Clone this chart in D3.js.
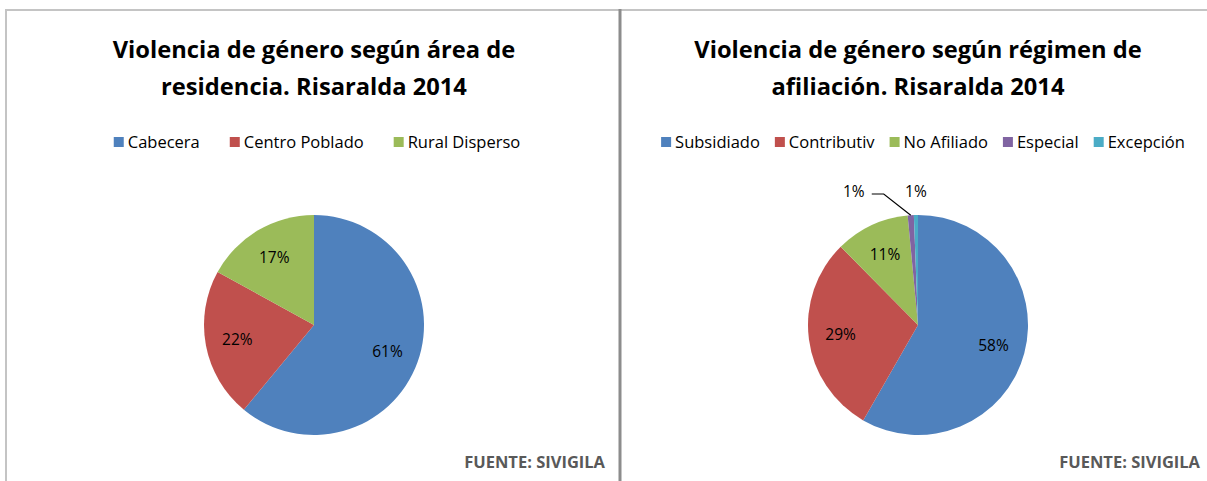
<!DOCTYPE html>
<html>
<head>
<meta charset="utf-8">
<script src="https://cdn.jsdelivr.net/npm/d3@7"></script>
<style>
  body { margin: 0; background: #fff; }
  svg text { font-family: 'Open Sans', sans-serif; }
</style>
</head>
<body>
<div id="chart"></div>
<script>
// datos
const areaCategories = ['Cabecera', 'Centro Poblado', 'Rural Disperso']
const areaValues = [61, 22, 17]
const regimenCategories = ['Subsidiado', 'Contributiv', 'No Afiliado', 'Especial', 'Excepción']
const regimenValues = [58.3, 29.3, 10.9, 0.9, 0.6]
const colors = ['#4F81BD', '#C0504D', '#9BBB59', '#8064A2', '#4BACC6']

const W = 1207
const H = 481

const svg = d3.select('#chart')
  .append('svg')
  .attr('width', W)
  .attr('height', H)

// bordes
svg.append('line')
  .attr('x1', 5).attr('x2', W).attr('y1', 10).attr('y2', 10)
  .attr('stroke', '#c4c4c4').attr('stroke-width', 2)
svg.append('line')
  .attr('x1', 6).attr('x2', 6).attr('y1', 9).attr('y2', H)
  .attr('stroke', '#c4c4c4').attr('stroke-width', 2)
svg.append('line')
  .attr('x1', 620).attr('x2', 620).attr('y1', 9).attr('y2', H)
  .attr('stroke', '#8c8c8c').attr('stroke-width', 3)

const drawPanel = (opts) => {
  const {cx, titleLines, categories, values, legendGap, legendCenter, fuenteX} = opts
  const g = svg.append('g')

  // titulo
  g.selectAll('.title')
    .data(titleLines)
    .enter()
    .append('text')
    .attr('class', 'title')
    .attr('x', cx)
    .attr('y', (d, i) => 58 + i * 37)
    .attr('text-anchor', 'middle')
    .attr('font-size', 23.7)
    .attr('font-weight', 700)
    .attr('fill', '#000')
    .text(d => d)

  // leyenda
  const legend = g.append('g').attr('transform', 'translate(0,142)')
  const items = legend.selectAll('g')
    .data(categories)
    .enter()
    .append('g')
  items.append('rect')
    .attr('width', 10).attr('height', 10)
    .attr('y', -5)
    .attr('fill', (d, i) => colors[i])
  items.append('text')
    .attr('x', 14)
    .attr('y', 5.5)
    .attr('font-size', 16.5)
    .attr('fill', '#000')
    .text(d => d)
  let xPos = 0
  items.each(function () {
    const w = d3.select(this).select('text').node().getComputedTextLength()
    d3.select(this).attr('transform', `translate(${xPos},0)`)
    xPos += 14 + w + legendGap
  })
  const total = xPos - legendGap
  legend.attr('transform', `translate(${legendCenter - total / 2},142)`)

  // pastel
  const r = 110
  const cy = 325
  const pie = d3.pie().sort(null).value(d => d)
  const arcs = pie(values)
  const arc = d3.arc().innerRadius(0).outerRadius(r)
  const labelArc = d3.arc().innerRadius(r * 0.71).outerRadius(r * 0.71)
  const edgeArc = d3.arc().innerRadius(r).outerRadius(r)

  const pg = g.append('g').attr('transform', `translate(${cx},${cy})`)
  pg.selectAll('path')
    .data(arcs)
    .enter()
    .append('path')
    .attr('d', arc)
    .attr('fill', (d, i) => colors[i])

  const big = arcs.filter(d => d.data >= 2)
  const small = arcs.filter(d => d.data < 2)

  pg.selectAll('.lbl')
    .data(big)
    .enter()
    .append('text')
    .attr('class', 'lbl')
    .attr('transform', d => `translate(${labelArc.centroid(d)})`)
    .attr('text-anchor', 'middle')
    .attr('dy', '0.35em')
    .attr('font-size', 15.5)
    .attr('fill', '#000')
    .text(d => Math.round(d.data) + '%')

  // etiquetas fuera para los trozos pequenos
  small.forEach((d, i) => {
    const p = edgeArc.centroid(d)
    const shift = (small.length - 1 - i) * 57
    const ty = -r - 18
    if (shift > 0) {
      pg.append('polyline')
        .attr('points', [[p[0], p[1]], [p[0] - 27, ty - 3], [p[0] - shift + 18, ty - 3]].map(q => q.join(',')).join(' '))
        .attr('fill', 'none')
        .attr('stroke', '#000')
        .attr('stroke-width', 1.2)
    }
    pg.append('text')
      .attr('x', p[0] - shift)
      .attr('y', ty)
      .attr('text-anchor', 'middle')
      .attr('font-size', 15.5)
      .attr('fill', '#000')
      .text(Math.round(d.data) + '%')
  })

  // fuente
  g.append('text')
    .attr('x', fuenteX)
    .attr('y', 468)
    .attr('text-anchor', 'end')
    .attr('font-size', 16.5)
    .attr('font-weight', 700)
    .attr('fill', '#595959')
    .text('FUENTE: SIVIGILA')
}

drawPanel({
  cx: 314,
  titleLines: ['Violencia de género según área de', 'residencia. Risaralda 2014'],
  categories: areaCategories,
  values: areaValues,
  legendGap: 30,
  legendCenter: 317,
  fuenteX: 605
})

drawPanel({
  cx: 918,
  titleLines: ['Violencia de género según régimen de', 'afiliación. Risaralda 2014'],
  categories: regimenCategories,
  values: regimenValues,
  legendGap: 15,
  legendCenter: 923,
  fuenteX: 1200
})
</script>
</body>
</html>
